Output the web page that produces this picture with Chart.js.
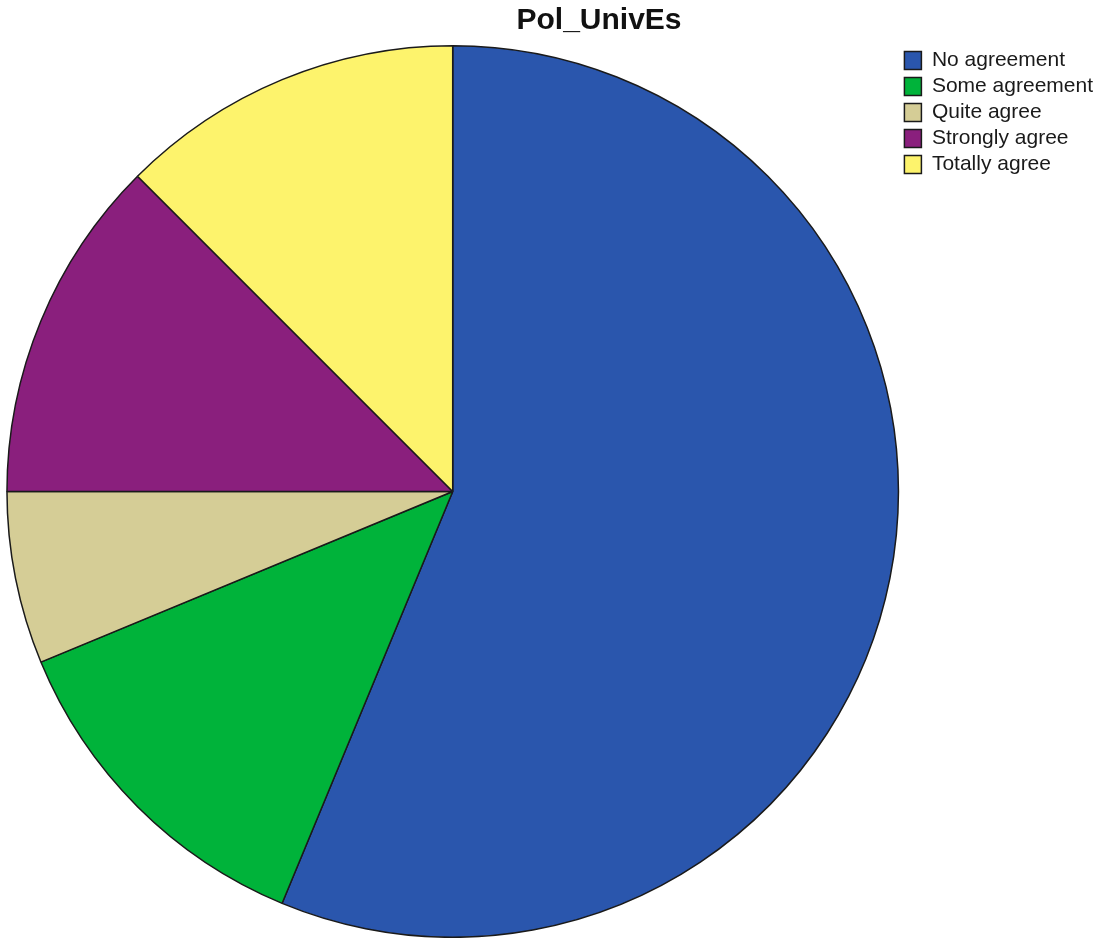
<!DOCTYPE html>
<html>
<head>
<meta charset="utf-8">
<script src="https://cdn.jsdelivr.net/npm/chart.js@4/dist/chart.umd.min.js"></script>
<style>
  html, body { margin: 0; padding: 0; background: #fff; }
  #wrap { position: relative; width: 1094px; height: 938px; }
  #titel {
    position: absolute; top: 2px; left: 599px; transform: translateX(-50%);
    font: bold 30px "Liberation Sans", Arial, sans-serif; color: #111; white-space: nowrap;
  }
</style>
</head>
<body>
<div id="wrap">
  <canvas id="chartPie" width="1094" height="938"></canvas>
  <div id="titel">Pol_UnivEs</div>
</div>
<script>
// Dữ liệu (số người trả lời)
const nhan = ['No agreement', 'Some agreement', 'Quite agree', 'Strongly agree', 'Totally agree'];
const soLuong = [9, 2, 1, 2, 2];
const mau = ['#2A56AD', '#00B33A', '#D5CD96', '#8A1F7D', '#FDF36C'];

document.addEventListener("DOMContentLoaded", function () {
    const ctx = document.getElementById('chartPie').getContext('2d');
    new Chart(ctx, {
        type: 'pie',
        data: {
            labels: nhan,
            datasets: [{
                data: soLuong,
                backgroundColor: mau,
                borderColor: '#1a1a1a',
                borderWidth: 1.5
            }]
        },
        options: {
            responsive: false,
            animation: false,
            layout: { padding: { top: 45, left: 6, right: -9, bottom: 0 } },
            plugins: {
                tooltip: { enabled: false },
                legend: {
                    position: 'right',
                    align: 'start',
                    labels: {
                        boxWidth: 17,
                        boxHeight: 18,
                        padding: 5,
                        color: '#1a1a1a',
                        font: { family: '"Liberation Sans", Arial, sans-serif', size: 21 }
                    }
                }
            }
        }
    });
});
</script>
</body>
</html>
